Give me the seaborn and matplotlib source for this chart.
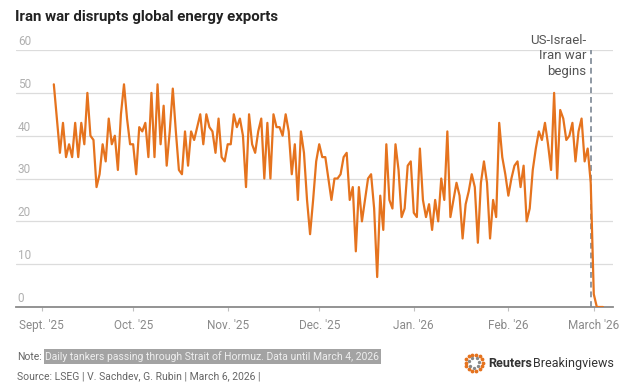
import numpy as np
import pandas as pd
import matplotlib.pyplot as plt
import seaborn as sns

# Daily tankers passing through the Strait of Hormuz, Sept 5 2025 - March 4 2026
start_date = "2025-09-05"
end_date = "2026-03-04"
tankers = [
    52, 44, 36, 43, 35, 38, 35, 43, 35, 43, 38, 50, 40, 39, 28, 31, 38, 34, 44, 38,
    40, 32, 45, 52, 44, 38, 38, 31, 42, 41, 43, 35, 50, 35, 52, 38, 47, 33, 41, 51,
    41, 32, 31, 41, 33, 41, 39, 42, 45, 38, 45, 42, 41, 36, 44, 35, 34, 38, 38, 45,
    42, 44, 40, 28, 45, 38, 36, 41, 44, 30, 43, 30, 45, 42, 42, 40, 45, 41, 31, 38,
    25, 41, 36, 25, 17, 25, 34, 38, 35, 35, 30, 25, 30, 30, 31, 35, 36, 25, 28, 13,
    28, 20, 25, 30, 31, 23, 7, 26, 18, 38, 25, 23, 38, 32, 21, 23, 33, 34, 22, 21,
    37, 25, 21, 24, 18, 25, 20, 30, 25, 41, 21, 25, 29, 26, 16, 24, 27, 31, 28, 15,
    29, 34, 29, 16, 25, 21, 43, 35, 31, 26, 30, 33, 34, 28, 33, 20, 23, 32, 37, 41,
    39, 43, 38, 32, 50, 30, 46, 44, 39, 40, 43, 34, 41, 44, 34, 37, 29, 3, 0, 0, 0,
]
dates = pd.date_range(start_date, end_date, freq="D")

month_ticks = pd.date_range("2025-09-01", "2026-03-01", freq="MS")
month_labels = ["Sept. '25", "Oct. '25", "Nov. '25", "Dec. '25", "Jan. '26", "Feb. '26", "March '26"]
y_ticks = [0, 10, 20, 30, 40, 50, 60]
war_start = pd.Timestamp("2026-02-28")

df = pd.DataFrame({"date": dates, "tankers": tankers})

sns.set_style("white")
plt.rcParams['font.family'] = ['Roboto', 'DejaVu Sans']

fig = plt.figure(figsize=(6.2, 3.85), dpi=100)
ax = fig.add_axes([0.0258, 0.2026, 0.9629, 0.6674])

# gridlines first so the line sits on top
for v in y_ticks:
    if v > 0:
        ax.axhline(v, color="#dcdcdc", lw=0.9, zorder=0)
    ax.text(0.003, v + 0.5, str(v), transform=ax.get_yaxis_transform(),
            ha="left", va="bottom", fontsize=8.5, color="#b0b0b0")

sns.lineplot(data=df, x="date", y="tankers", color="#E5731E", linewidth=1.6, ax=ax, zorder=3)

ax.axvline(war_start, color="#8e98a3", lw=1.4, ls=(0, (3, 2)), zorder=2)

ax.set_xlim(pd.Timestamp("2025-09-01") - pd.Timedelta(days=8.4),
            pd.Timestamp("2025-09-01") + pd.Timedelta(days=187.3))
ax.set_ylim(0, 60)
ax.set_yticks([])
ax.set_xticks(month_ticks)
ax.set_xticklabels(month_labels)
ax.tick_params(axis="x", length=3, width=0.8, color="#c0c0c0", labelcolor="#8a8a8a",
               labelsize=8.5, pad=6, bottom=True)
ax.set_xlabel("")
ax.set_ylabel("")
for s in ["top", "left", "right"]:
    ax.spines[s].set_visible(False)
ax.spines["bottom"].set_color("#8a8a8a")
ax.spines["bottom"].set_linewidth(1.3)

fig.text(0.946, 0.912, "US-Israel-\nIran war\nbegins", ha="right", va="top",
         fontsize=9.5, color="#555555", linespacing=1.25)

fig.text(0.024, 0.956, "Iran war disrupts global energy exports", ha="left", va="center",
         fontsize=10.8, fontweight="bold", color="#222222")

# footer
fig.text(0.027, 0.074, "Note:", ha="left", va="center", fontsize=7.5, color="#666666")
fig.text(0.073, 0.074, "Daily tankers passing through Strait of Hormuz. Data until March 4, 2026",
         ha="left", va="center", fontsize=7.5, color="#eeeeee",
         bbox=dict(facecolor="#a3a3a3", edgecolor="none", pad=1.2))
fig.text(0.027, 0.022, "Source: LSEG | V. Sachdev, G. Rubin | March 6, 2026 |", ha="left",
         va="center", fontsize=7.5, color="#666666")

# logo text laid out from the right edge: "Reuters" bold then "Breakingviews"
rend = fig.canvas.get_renderer()
bv = fig.text(0.99, 0.057, "Breakingviews", ha="right", va="center", fontsize=9,
              color="#333333")
bb = bv.get_window_extent(renderer=rend)
rt = fig.text(bb.x0 / fig.bbox.width - 0.002, 0.057, "Reuters", ha="right", va="center",
              fontsize=9, fontweight="bold", color="#333333")
rb = rt.get_window_extent(renderer=rend)
logo_x = rb.x0 / fig.bbox.width - 0.040

# little dotted ring logo
lax = fig.add_axes([logo_x, 0.030, 0.036, 0.056])
ang = np.linspace(0, 2 * np.pi, 14, endpoint=False)
lax.scatter(np.cos(ang), np.sin(ang), s=3, color="#E5731E")
lax.scatter(0.6 * np.cos(ang[::2] + 0.2), 0.6 * np.sin(ang[::2] + 0.2), s=2, color="#888888")
lax.set_xlim(-1.3, 1.3)
lax.set_ylim(-1.3, 1.3)
lax.axis("off")

fig.savefig("out.png", dpi=100)
